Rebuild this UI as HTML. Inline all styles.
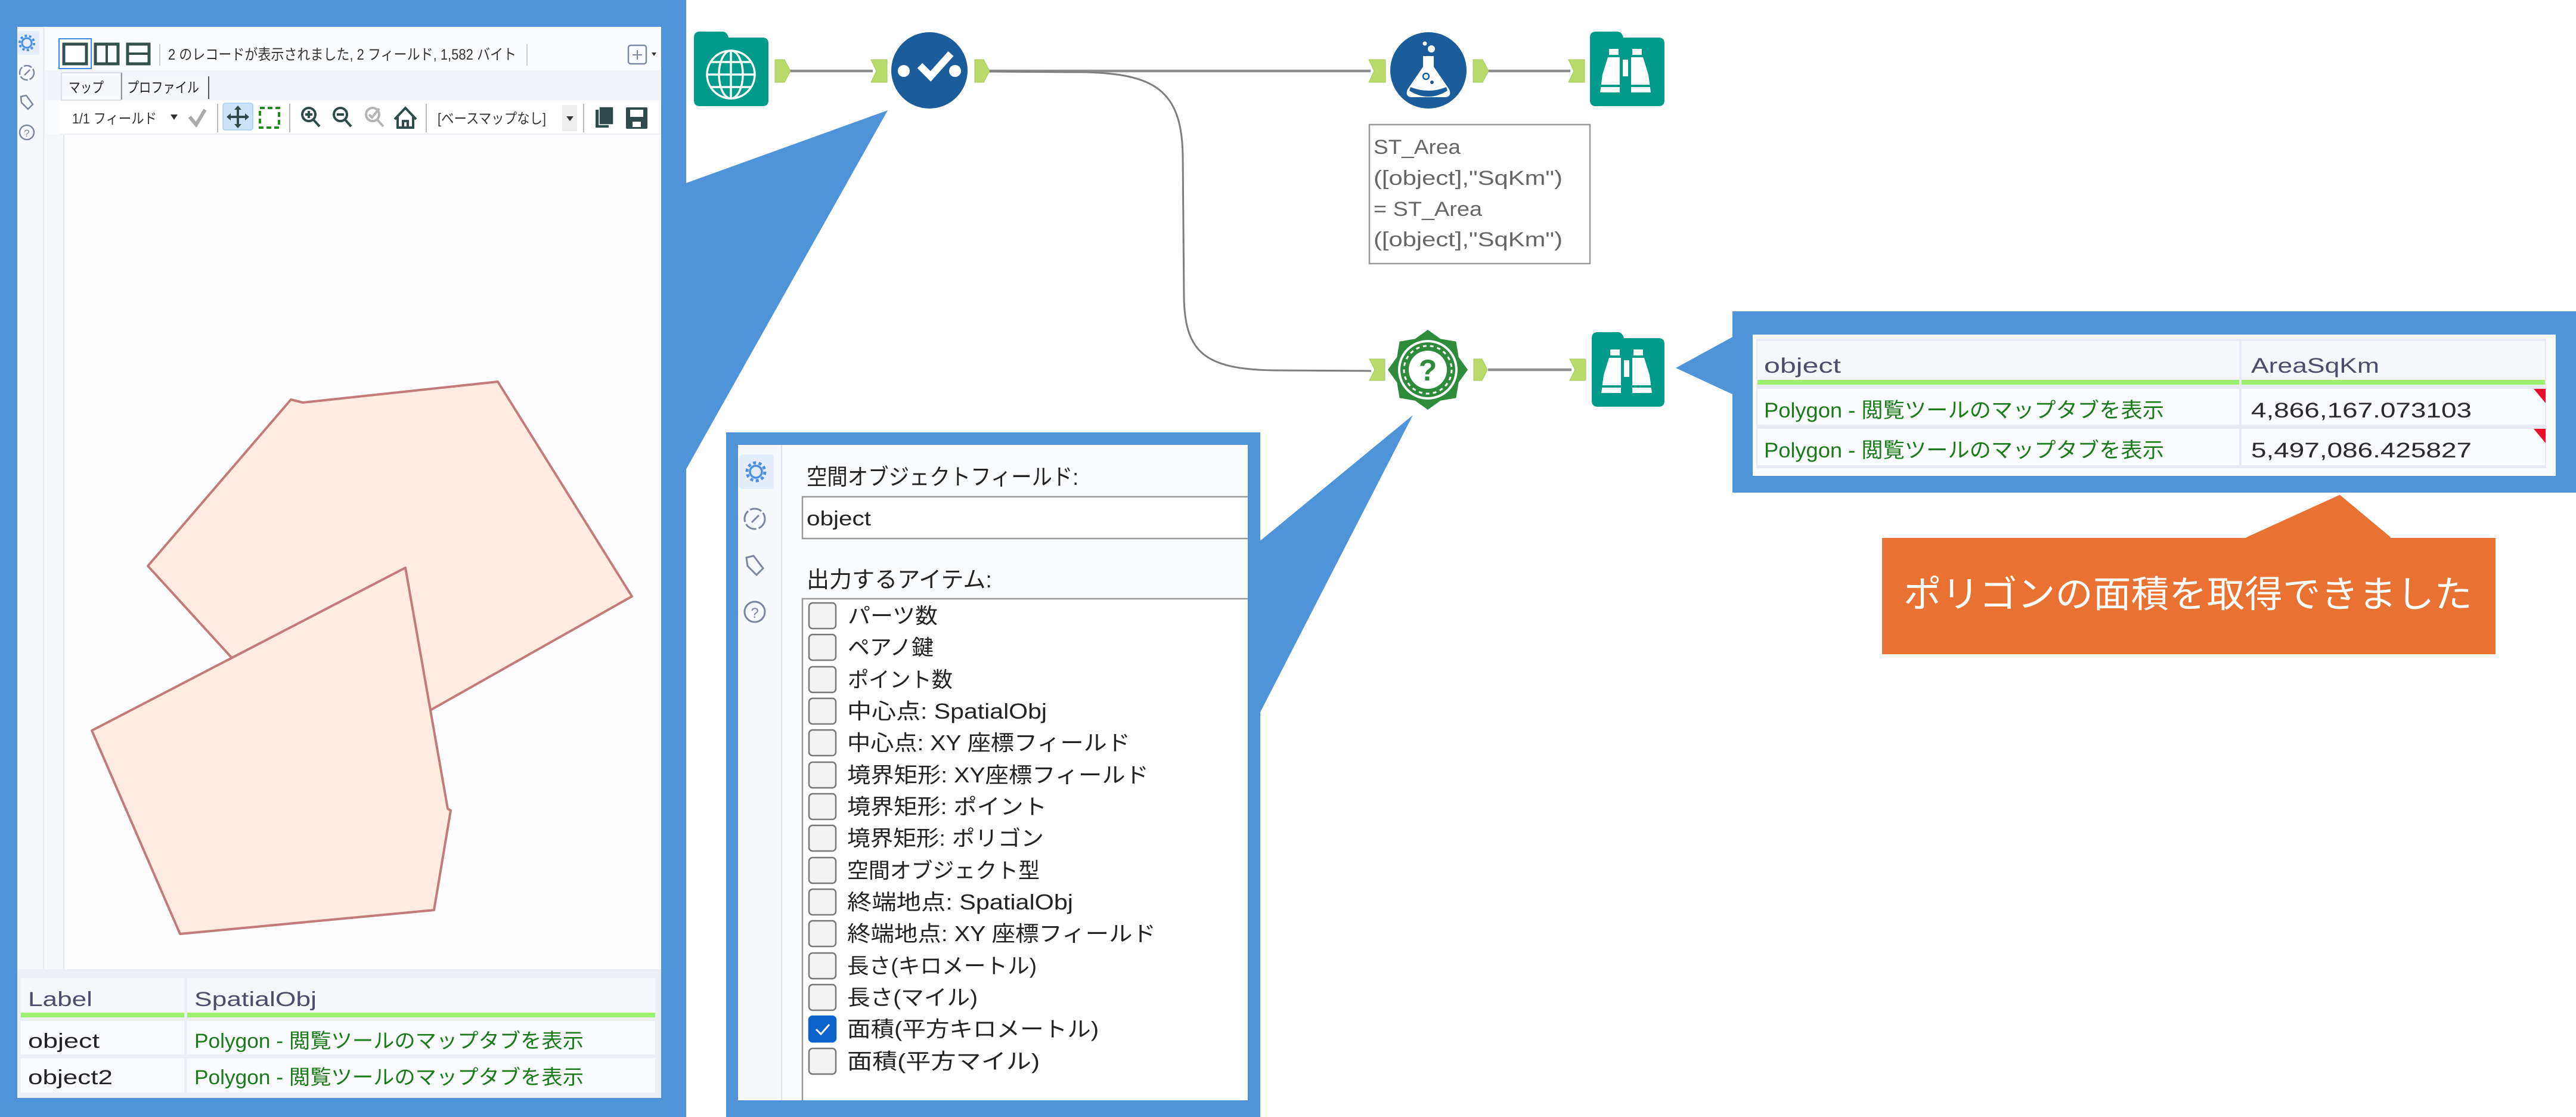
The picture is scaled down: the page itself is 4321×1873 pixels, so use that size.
<!DOCTYPE html>
<html><head><meta charset="utf-8">
<style>
html,body{margin:0;padding:0;background:#fff;}
svg{display:block;}
text{font-family:"Liberation Sans","Noto Sans CJK JP",sans-serif;}
</style></head><body>
<svg width="4321" height="1873" viewBox="0 0 4321 1873" xmlns="http://www.w3.org/2000/svg">
<rect width="4321" height="1873" fill="#ffffff"/>

<!-- ===== callout wedges ===== -->
<polygon points="1489,185 1148,308 1148,792" fill="#4F94D9"/>
<polygon points="2370,696 2110,910 2110,1202" fill="#4F94D9"/>
<polygon points="2811,617 2908,564 2908,662" fill="#4F94D9"/>

<!-- ===== LEFT PANEL ===== -->
<rect x="0" y="0" width="1151" height="1873" fill="#4F94D9"/>
<rect x="29" y="45" width="1080" height="1796" fill="#FBFCFE"/>
<rect x="29" y="45" width="44" height="1580" fill="#F6F8FC"/>
<line x1="73.5" y1="45" x2="73.5" y2="1625" stroke="#E1E5EE" stroke-width="2"/>
<rect x="74" y="225" width="33" height="1400" fill="#F5F7FB"/>
<line x1="107" y1="225" x2="107" y2="1625" stroke="#E2E6EF" stroke-width="2"/>
<rect x="108" y="225" width="1001" height="1400" fill="#FDFDFF"/>
<!-- sidebar icons -->
<rect x="30" y="52" width="36" height="40" rx="4" fill="#E3EDFB"/>
<circle cx="45" cy="72" r="8" fill="none" stroke="#4C8FE2" stroke-width="3"/>
<circle cx="45" cy="72" r="12" fill="none" stroke="#4C8FE2" stroke-width="4" stroke-dasharray="4 3.5"/>
<circle cx="45" cy="122" r="12" fill="none" stroke="#7C879F" stroke-width="2.5" stroke-dasharray="14 3"/>
<line x1="41" y1="126" x2="50" y2="117" stroke="#7C879F" stroke-width="2.5"/>
<path d="M35,162 L44,160 L55,175 L47,183 L36,172 Z" fill="none" stroke="#7C879F" stroke-width="2.5"/>
<circle cx="45" cy="222" r="12" fill="none" stroke="#7C879F" stroke-width="2.5"/>
<text x="45" y="229" font-size="17" fill="#7C879F" text-anchor="middle">?</text>
<!-- toolbar row 1 -->
<rect x="99" y="65" width="54" height="50" fill="#fff" stroke="#3B8BE0" stroke-width="2"/>
<rect x="107" y="74" width="38" height="33" fill="none" stroke="#34504D" stroke-width="5"/>
<rect x="160" y="74" width="38" height="33" fill="none" stroke="#34504D" stroke-width="5"/>
<line x1="179" y1="74" x2="179" y2="107" stroke="#34504D" stroke-width="4"/>
<rect x="214" y="74" width="36" height="33" fill="none" stroke="#34504D" stroke-width="5"/>
<line x1="214" y1="90" x2="250" y2="90" stroke="#34504D" stroke-width="4"/>
<line x1="268" y1="74" x2="268" y2="110" stroke="#C8CCD4" stroke-width="2"/>
<text x="282" y="100" font-size="25" fill="#333" textLength="584" lengthAdjust="spacingAndGlyphs">2 のレコードが表示されました, 2 フィールド, 1,582 バイト</text>
<line x1="884" y1="74" x2="884" y2="110" stroke="#C8CCD4" stroke-width="2"/>
<rect x="1054" y="76" width="30" height="31" rx="4" fill="none" stroke="#7C879F" stroke-width="2.5"/>
<line x1="1069" y1="84" x2="1069" y2="100" stroke="#7C879F" stroke-width="2"/>
<line x1="1061" y1="92" x2="1077" y2="92" stroke="#7C879F" stroke-width="2"/>
<polygon points="1093,88 1101,88 1097,94" fill="#333"/>
<!-- toolbar row 2 (tabs) -->
<rect x="74" y="118" width="1035" height="50" fill="#F2F4F9"/>
<rect x="103" y="122" width="100" height="46" fill="#F8F9FC" stroke="#D5D9E2" stroke-width="1.5"/>
<rect x="205" y="127" width="145" height="40" fill="#F4F6FA"/>
<line x1="350" y1="128" x2="350" y2="166" stroke="#555" stroke-width="2"/>
<line x1="204" y1="122" x2="204" y2="167" stroke="#777" stroke-width="1.5"/>
<text x="115" y="155" font-size="24" fill="#222" textLength="59" lengthAdjust="spacingAndGlyphs">マップ</text>
<text x="213" y="155" font-size="24" fill="#222" textLength="121" lengthAdjust="spacingAndGlyphs">プロファイル</text>
<!-- toolbar row 3 -->
<rect x="100" y="170" width="1009" height="55" fill="#fff"/>
<line x1="100" y1="225" x2="1109" y2="225" stroke="#EEF0F4" stroke-width="2"/>
<text x="121" y="207" font-size="24" fill="#333" textLength="142" lengthAdjust="spacingAndGlyphs">1/1 フィールド</text>
<polygon points="286,192 298,192 292,201" fill="#333"/>
<polyline points="318,196 329,209 344,184" fill="none" stroke="#AAAAAA" stroke-width="6"/>
<line x1="365" y1="174" x2="365" y2="222" stroke="#BBB" stroke-width="2"/>
<rect x="374" y="173" width="50" height="45" rx="4" fill="#CDE4F8" stroke="#A6CDEF" stroke-width="1.5"/>
<g stroke="#2F4A4A" stroke-width="4" fill="#2F4A4A">
<line x1="399" y1="180" x2="399" y2="212"/><line x1="383" y1="196" x2="415" y2="196"/>
<polygon points="393,184 405,184 399,177" stroke="none"/><polygon points="393,208 405,208 399,215" stroke="none"/>
<polygon points="387,190 387,202 380,196" stroke="none"/><polygon points="411,190 411,202 418,196" stroke="none"/>
</g>
<rect x="436" y="181" width="32" height="33" fill="none" stroke="#1E8B1E" stroke-width="4" stroke-dasharray="8 5"/>
<line x1="486" y1="174" x2="486" y2="222" stroke="#BBB" stroke-width="2"/>
<g fill="none" stroke="#2F4A4A" stroke-width="4">
<circle cx="518" cy="192" r="11"/><line x1="526" y1="201" x2="536" y2="212"/><line x1="512" y1="192" x2="524" y2="192"/><line x1="518" y1="186" x2="518" y2="198"/>
<circle cx="571" cy="192" r="11"/><line x1="579" y1="201" x2="589" y2="212"/><line x1="565" y1="192" x2="577" y2="192"/>
</g>
<g fill="none" stroke="#B5B5B5" stroke-width="4">
<circle cx="625" cy="192" r="11"/><line x1="633" y1="201" x2="643" y2="212"/><polyline points="619,192 624,197 636,182"/>
</g>
<path d="M662,200 L680,181 L698,200 M667,196 V214 H693 V196 M676,214 V203 H684 V214" fill="none" stroke="#2F4A4A" stroke-width="4"/>
<line x1="715" y1="174" x2="715" y2="222" stroke="#BBB" stroke-width="2"/>
<text x="734" y="207" font-size="24" fill="#333" textLength="182" lengthAdjust="spacingAndGlyphs">[ベースマップなし]</text>
<rect x="943" y="176" width="25" height="44" fill="#EEEEEE"/>
<polygon points="950,195 962,195 956,203" fill="#333"/>
<line x1="979" y1="174" x2="979" y2="222" stroke="#BBB" stroke-width="2"/>
<rect x="999" y="184" width="22" height="30" fill="#2F4A4A"/>
<rect x="1005" y="179" width="24" height="30" fill="#2F4A4A" stroke="#fff" stroke-width="1.5"/>
<rect x="1050" y="180" width="36" height="36" rx="2" fill="#2F4A4A"/>
<rect x="1057" y="184" width="22" height="12" fill="#fff"/>
<rect x="1061" y="204" width="14" height="9" fill="#fff"/>
<!-- polygons -->
<polygon points="488,670 508,675 835,640 1060,1000 555,1285 248,949" fill="#FFEBDF" stroke="#C17B78" stroke-width="4" stroke-linejoin="round"/>
<polygon points="680,952 751,1356 756,1359 728,1526 302,1566 154,1225" fill="#FFEBDF" stroke="#C17B78" stroke-width="4" stroke-linejoin="round"/>
<!-- left table -->
<rect x="29" y="1625" width="1080" height="216" fill="#ECEFF6"/>
<rect x="35" y="1640" width="274" height="58" fill="#F6F7FB"/>
<rect x="314" y="1640" width="785" height="58" fill="#F6F7FB"/>
<rect x="35" y="1698" width="274" height="8" fill="#9DF06F"/>
<rect x="314" y="1698" width="785" height="8" fill="#9DF06F"/>
<rect x="35" y="1712" width="274" height="56" fill="#FAFBFE"/>
<rect x="314" y="1712" width="785" height="56" fill="#FAFBFE"/>
<rect x="35" y="1775" width="274" height="57" fill="#FAFBFE"/>
<rect x="314" y="1775" width="785" height="57" fill="#FAFBFE"/>
<text x="47" y="1687" font-size="34" fill="#4A4E6A" textLength="108" lengthAdjust="spacingAndGlyphs">Label</text>
<text x="326" y="1687" font-size="34" fill="#4A4E6A" textLength="205" lengthAdjust="spacingAndGlyphs">SpatialObj</text>
<text x="47" y="1757" font-size="34" fill="#222" textLength="120" lengthAdjust="spacingAndGlyphs">object</text>
<text x="326" y="1757" font-size="34" fill="#1A7A1A" textLength="653" lengthAdjust="spacingAndGlyphs">Polygon - 閲覧ツールのマップタブを表示</text>
<text x="47" y="1818" font-size="34" fill="#222" textLength="142" lengthAdjust="spacingAndGlyphs">object2</text>
<text x="326" y="1818" font-size="34" fill="#1A7A1A" textLength="653" lengthAdjust="spacingAndGlyphs">Polygon - 閲覧ツールのマップタブを表示</text>

<!-- ===== CONNECTORS ===== -->
<g stroke="#8E8E8E" stroke-width="4.5" fill="none">
<line x1="1324" y1="119" x2="1464" y2="119"/>
<line x1="1657" y1="119" x2="2299" y2="119"/>
<line x1="2495" y1="119" x2="2634" y2="119"/>
<line x1="2496" y1="620" x2="2636" y2="620"/>
</g>
<path d="M1659,120 L1820,121 C1935,124 1982,150 1984,260 L1986,500 C1988,590 2020,620 2140,621 L2300,622" fill="none" stroke="#7E7E7E" stroke-width="3"/>

<!-- anchors -->
<g fill="#B9DA6A" stroke="#A6C85A" stroke-width="1">
<polygon points="1300,100 1316,100 1326,119 1316,138 1300,138"/>
<polygon points="1461,100 1488,100 1488,138 1461,138 1470,119"/>
<polygon points="1635,100 1650,100 1660,119 1650,138 1635,138"/>
<polygon points="2296,100 2324,100 2324,138 2296,138 2305,119"/>
<polygon points="2471,100 2487,100 2497,119 2487,138 2471,138"/>
<polygon points="2631,100 2658,100 2658,138 2631,138 2640,119"/>
<polygon points="2297,602 2323,602 2323,638 2297,638 2306,620"/>
<polygon points="2472,602 2486,602 2495,620 2486,638 2472,638"/>
<polygon points="2633,602 2660,602 2660,638 2633,638 2642,620"/>
</g>

<!-- ===== NODES ===== -->
<!-- globe input -->
<path d="M1164,63 q0,-10 10,-10 h38 q6,0 9,7 l1,3 h57 q10,0 10,10 v95 q0,10 -10,10 h-105 q-10,0 -10,-10 z" fill="#009B8A"/>
<g fill="none" stroke="#fff" stroke-width="3.5">
<circle cx="1226" cy="125" r="40"/>
<ellipse cx="1226" cy="125" rx="20" ry="40"/>
<line x1="1226" y1="85" x2="1226" y2="165"/>
<line x1="1186" y1="125" x2="1266" y2="125"/>
<line x1="1192" y1="104" x2="1260" y2="104"/>
<line x1="1192" y1="146" x2="1260" y2="146"/>
</g>
<!-- select -->
<circle cx="1559" cy="118" r="64" fill="#1B5D9A"/>
<circle cx="1516" cy="119" r="10" fill="#fff"/>
<circle cx="1602" cy="119" r="10" fill="#fff"/>
<polyline points="1543,110 1561,128 1595,90" fill="none" stroke="#fff" stroke-width="12"/>
<!-- formula -->
<circle cx="2396" cy="118" r="64" fill="#1B5D9A"/>
<circle cx="2390" cy="73" r="3.5" fill="#fff"/>
<circle cx="2401" cy="82" r="6" fill="#fff"/>
<path d="M2387,94 H2405 V112 L2431,150 Q2436,163 2422,163 H2370 Q2356,163 2361,150 L2387,112 Z" fill="#fff"/>
<path d="M2366,146 Q2396,158 2426,146 L2428,152 Q2396,172 2364,152 Z" fill="#1B5D9A"/>
<circle cx="2392" cy="128" r="5" fill="none" stroke="#1B5D9A" stroke-width="2.5"/>
<circle cx="2402" cy="138" r="3" fill="#1B5D9A"/>
<!-- browse 1 -->
<path d="M2667,63 q0,-10 10,-10 h36 q6,0 9,7 l1,3 h59 q10,0 10,10 v95 q0,10 -10,10 h-105 q-10,0 -10,-10 z" fill="#009B8A"/>
<g fill="#fff">
<rect x="2699" y="82" width="16" height="10"/><rect x="2738" y="82" width="16" height="10"/>
<polygon points="2697,96 2717,96 2717,155 2684,155 2688,125"/>
<polygon points="2736,96 2756,96 2765,125 2769,155 2736,155"/>
<rect x="2722" y="100" width="9" height="28"/>
</g>
<rect x="2684" y="142" width="33" height="4" fill="#009B8A"/><rect x="2736" y="142" width="33" height="4" fill="#009B8A"/>
<!-- browse 2 -->
<path d="M2670,567 q0,-10 10,-10 h34 q6,0 9,7 l1,3 h58 q10,0 10,10 v95 q0,10 -10,10 h-102 q-10,0 -10,-10 z" fill="#009B8A"/>
<g fill="#fff">
<rect x="2701" y="586" width="16" height="10"/><rect x="2740" y="586" width="16" height="10"/>
<polygon points="2699,600 2719,600 2719,659 2686,659 2690,629"/>
<polygon points="2738,600 2758,600 2767,629 2771,659 2738,659"/>
<rect x="2724" y="604" width="9" height="28"/>
</g>
<rect x="2686" y="646" width="33" height="4" fill="#009B8A"/><rect x="2738" y="646" width="33" height="4" fill="#009B8A"/>
<!-- spatial info -->
<polygon points="2462,620 2446.7,641.4 2442.4,667.4 2416.4,671.7 2395,687 2373.6,671.7 2347.6,667.4 2343.3,641.4 2328,620 2343.3,598.6 2347.6,572.6 2373.6,568.3 2395,553 2416.4,568.3 2442.4,572.6 2446.7,598.6" fill="#2E8B3C"/>
<circle cx="2395" cy="620" r="50" fill="#fff"/>
<circle cx="2395" cy="620" r="46" fill="#2E8B3C"/>
<circle cx="2395" cy="620" r="40" fill="none" stroke="#fff" stroke-width="3" stroke-dasharray="6 6"/>
<circle cx="2395" cy="620" r="32" fill="#fff"/>
<text x="2395" y="638" font-size="50" font-weight="bold" fill="#2E8B3C" text-anchor="middle">?</text>

<!-- annotation -->
<rect x="2297" y="209" width="370" height="233" fill="#fff" stroke="#9A9A9A" stroke-width="2.5"/>
<text x="2304" y="258" font-size="34" fill="#666" textLength="146" lengthAdjust="spacingAndGlyphs">ST_Area</text>
<text x="2304" y="310" font-size="34" fill="#666" textLength="317" lengthAdjust="spacingAndGlyphs">([object],"SqKm")</text>
<text x="2304" y="362" font-size="34" fill="#666" textLength="182" lengthAdjust="spacingAndGlyphs">= ST_Area</text>
<text x="2304" y="413" font-size="34" fill="#666" textLength="317" lengthAdjust="spacingAndGlyphs">([object],"SqKm")</text>

<!-- ===== CONFIG PANEL ===== -->
<rect x="1218" y="725" width="896" height="1148" fill="#4F94D9"/>
<rect x="1238" y="746" width="855" height="1099" fill="#FAFBFD"/>
<rect x="1238" y="746" width="73" height="1099" fill="#F6F8FC"/>
<line x1="1311" y1="746" x2="1311" y2="1845" stroke="#DDE2EC" stroke-width="2"/>
<rect x="1240" y="762" width="58" height="58" rx="5" fill="#E3EDFB"/>
<circle cx="1268" cy="791" r="10" fill="none" stroke="#4C8FE2" stroke-width="3.5"/>
<circle cx="1268" cy="791" r="15" fill="none" stroke="#4C8FE2" stroke-width="5" stroke-dasharray="5 4.4"/>
<circle cx="1266" cy="870" r="17" fill="none" stroke="#7C879F" stroke-width="3" stroke-dasharray="20 4"/>
<line x1="1261" y1="876" x2="1273" y2="864" stroke="#7C879F" stroke-width="3"/>
<path d="M1252,935 L1264,932 L1280,953 L1269,964 L1254,949 Z" fill="none" stroke="#7C879F" stroke-width="3"/>
<circle cx="1266" cy="1026" r="17" fill="none" stroke="#7C879F" stroke-width="3"/>
<text x="1266" y="1036" font-size="24" fill="#7C879F" text-anchor="middle">?</text>
<text x="1353" y="813" font-size="38" fill="#222" textLength="456" lengthAdjust="spacingAndGlyphs">空間オブジェクトフィールド:</text>
<rect x="1345" y="832" width="748" height="72" fill="#fff"/>
<path d="M2093,833 H1346 V903 H2093" fill="none" stroke="#9A9A9A" stroke-width="2.5"/>
<text x="1353" y="881" font-size="34" fill="#222" textLength="108" lengthAdjust="spacingAndGlyphs">object</text>
<text x="1353" y="985" font-size="38" fill="#222" textLength="311" lengthAdjust="spacingAndGlyphs">出力するアイテム:</text>
<rect x="1345" y="1003" width="748" height="842" fill="#fff"/>
<path d="M2093,1004 H1346 V1845" fill="none" stroke="#9A9A9A" stroke-width="2.5"/>
<g fill="#F3F3F3" stroke="#777" stroke-width="2.5">
<rect x="1357" y="1011" width="45" height="43" rx="6"/>
<rect x="1357" y="1064" width="45" height="43" rx="6"/>
<rect x="1357" y="1118" width="45" height="43" rx="6"/>
<rect x="1357" y="1171" width="45" height="43" rx="6"/>
<rect x="1357" y="1224" width="45" height="43" rx="6"/>
<rect x="1357" y="1278" width="45" height="43" rx="6"/>
<rect x="1357" y="1331" width="45" height="43" rx="6"/>
<rect x="1357" y="1384" width="45" height="43" rx="6"/>
<rect x="1357" y="1438" width="45" height="43" rx="6"/>
<rect x="1357" y="1491" width="45" height="43" rx="6"/>
<rect x="1357" y="1544" width="45" height="43" rx="6"/>
<rect x="1357" y="1598" width="45" height="43" rx="6"/>
<rect x="1357" y="1651" width="45" height="43" rx="6"/>
<rect x="1357" y="1758" width="45" height="43" rx="6"/>
</g>
<rect x="1357" y="1704" width="45" height="43" rx="6" fill="#0B62C9" stroke="#0B62C9" stroke-width="2.5"/>
<polyline points="1369,1726 1377,1734 1391,1718" fill="none" stroke="#fff" stroke-width="3"/>
<g font-size="36" fill="#222">
<text x="1422" y="1045" textLength="151" lengthAdjust="spacingAndGlyphs">パーツ数</text>
<text x="1422" y="1098" textLength="144" lengthAdjust="spacingAndGlyphs">ペアノ鍵</text>
<text x="1422" y="1152" textLength="176" lengthAdjust="spacingAndGlyphs">ポイント数</text>
<text x="1421" y="1205" textLength="335" lengthAdjust="spacingAndGlyphs">中心点: SpatialObj</text>
<text x="1421" y="1258" textLength="475" lengthAdjust="spacingAndGlyphs">中心点: XY 座標フィールド</text>
<text x="1421" y="1312" textLength="506" lengthAdjust="spacingAndGlyphs">境界矩形: XY座標フィールド</text>
<text x="1421" y="1365" textLength="335" lengthAdjust="spacingAndGlyphs">境界矩形: ポイント</text>
<text x="1421" y="1418" textLength="330" lengthAdjust="spacingAndGlyphs">境界矩形: ポリゴン</text>
<text x="1421" y="1472" textLength="323" lengthAdjust="spacingAndGlyphs">空間オブジェクト型</text>
<text x="1421" y="1525" textLength="379" lengthAdjust="spacingAndGlyphs">終端地点: SpatialObj</text>
<text x="1421" y="1578" textLength="518" lengthAdjust="spacingAndGlyphs">終端地点: XY 座標フィールド</text>
<text x="1421" y="1632" textLength="318" lengthAdjust="spacingAndGlyphs">長さ(キロメートル)</text>
<text x="1421" y="1685" textLength="219" lengthAdjust="spacingAndGlyphs">長さ(マイル)</text>
<text x="1421" y="1738" textLength="422" lengthAdjust="spacingAndGlyphs">面積(平方キロメートル)</text>
<text x="1421" y="1792" textLength="323" lengthAdjust="spacingAndGlyphs">面積(平方マイル)</text>
</g>

<!-- ===== RIGHT TABLE PANEL ===== -->
<rect x="2906" y="522" width="1415" height="304" fill="#4F94D9"/>
<rect x="2940" y="561" width="1347" height="237" fill="#FBFCFE"/>
<rect x="2946" y="568" width="1325" height="217" fill="#E7EBF4"/>
<rect x="2948" y="572" width="808" height="65" fill="#F6F7FB"/>
<rect x="3760" y="572" width="509" height="65" fill="#F6F7FB"/>
<rect x="2948" y="637" width="808" height="8" fill="#9DF06F"/>
<rect x="3760" y="637" width="509" height="8" fill="#9DF06F"/>
<rect x="2948" y="652" width="808" height="60" fill="#FAFBFE"/>
<rect x="3760" y="652" width="509" height="60" fill="#FAFBFE"/>
<rect x="2948" y="719" width="808" height="61" fill="#FAFBFE"/>
<rect x="3760" y="719" width="509" height="61" fill="#FAFBFE"/>
<polygon points="4250,652 4270,652 4270,676" fill="#E8112D"/>
<polygon points="4250,719 4270,719 4270,743" fill="#E8112D"/>
<text x="2959" y="625" font-size="35" fill="#4A4E6A" textLength="129" lengthAdjust="spacingAndGlyphs">object</text>
<text x="3776" y="625" font-size="35" fill="#4A4E6A" textLength="215" lengthAdjust="spacingAndGlyphs">AreaSqKm</text>
<text x="2959" y="700" font-size="35" fill="#1A7A1A" textLength="671" lengthAdjust="spacingAndGlyphs">Polygon - 閲覧ツールのマップタブを表示</text>
<text x="3776" y="700" font-size="35" fill="#2A2A2A" textLength="370" lengthAdjust="spacingAndGlyphs">4,866,167.073103</text>
<text x="2959" y="767" font-size="35" fill="#1A7A1A" textLength="671" lengthAdjust="spacingAndGlyphs">Polygon - 閲覧ツールのマップタブを表示</text>
<text x="3776" y="767" font-size="35" fill="#2A2A2A" textLength="370" lengthAdjust="spacingAndGlyphs">5,497,086.425827</text>

<!-- ===== ORANGE CALLOUT ===== -->
<polygon points="3760,903 3925,828 4015,903" fill="#E97233" stroke="#fff" stroke-width="3"/>
<rect x="3157" y="902" width="1029" height="195" fill="#E97233"/>
<polygon points="3763,904 3925,831 4012,904" fill="#E97233"/>
<text x="3193" y="1018" font-size="62" fill="#fff" textLength="954" lengthAdjust="spacingAndGlyphs">ポリゴンの面積を取得できました</text>
</svg>
</body></html>
